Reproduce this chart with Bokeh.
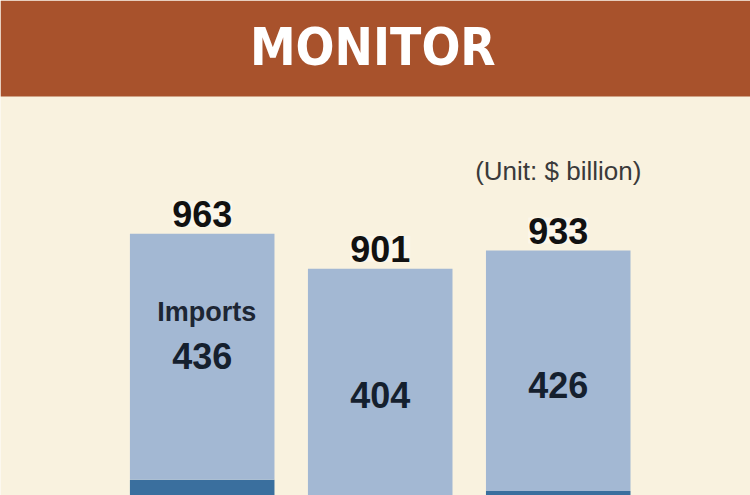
from bokeh.plotting import figure
from bokeh.models import Range1d, BoxAnnotation, Label
from bokeh.core.properties import value
from bokeh.embed import file_html
from bokeh.resources import INLINE

# Data ($ billion)
years = ["2015", "2016", "2017"]
exports = [527, 497, 507]
imports = [436, 404, 426]
totals = [e + i for e, i in zip(exports, imports)]  # 963, 901, 933

BG = "#F9F2DF"
HEADER = "#A8522C"
LIGHT = "#A3B8D3"
DARK = "#3A6F9E"
FONT = value("Liberation Sans")

x = list(range(len(years)))

p = figure(width=750, height=495, output_backend="svg", toolbar_location=None,
           x_range=Range1d(-1.133, 3.080), y_range=Range1d(499.2, 1375.9),
           x_axis_type=None, y_axis_type=None, min_border=0,
           background_fill_color=BG, border_fill_color=BG, outline_line_color=None)
p.grid.visible = False

# stacked bars: exports (dark) at the bottom, imports (light) on top
p.vbar(x=x, bottom=0, top=exports, width=0.812, fill_color=DARK, line_color=None)
p.vbar(x=x, bottom=exports, top=totals, width=0.812, fill_color=LIGHT, line_color=None)

# header band
p.add_layout(BoxAnnotation(bottom=1205.9, fill_color=HEADER, fill_alpha=1.0, line_color=None))
xc = (p.x_range.start + p.x_range.end) / 2
p.add_layout(Label(x=xc - 0.015, y=1292.5, text="MONITOR", text_align="center",
                   text_baseline="alphabetic", text_color="white",
                   text_font="DejaVu Sans Condensed, Liberation Sans, sans-serif",
                   text_font_style="bold", text_font_size="51px"))

# unit note above the last bar
p.add_layout(Label(x=x[-1], y=1074.8, text="(Unit: $ billion)", text_align="center",
                   text_baseline="alphabetic", text_color="#3a3a3a",
                   text_font="Liberation Sans", text_font_size="26px"))

# totals above bars
p.text(x=x, y=totals, text=[str(t) for t in totals], text_align="center",
       text_baseline="alphabetic", y_offset=-20, text_font=FONT,
       text_font_style="bold", text_font_size="36px", text_color="#111111",
       background_fill_color="white", background_fill_alpha=0.35)

# imports values inside the light segment
imp_y = [e + 0.38 * i for e, i in zip(exports, imports)]
offs = [-30 if k == 0 else -15 for k in x]
p.text(x=x, y=imp_y, text=[str(i) for i in imports], text_align="center",
       text_baseline="alphabetic", y_offset=offs, text_font=FONT,
       text_font_style="bold", text_font_size="36px", text_color="#15202e")

# series caption in the first bar
p.text(x=[x[0] + 0.025], y=[imp_y[0]], text=["Imports"], text_align="center",
       text_baseline="alphabetic", y_offset=-74, text_font=FONT,
       text_font_style="bold", text_font_size="27px", text_color="#1d2634")

open("out.html", "w").write(file_html(p, INLINE))
